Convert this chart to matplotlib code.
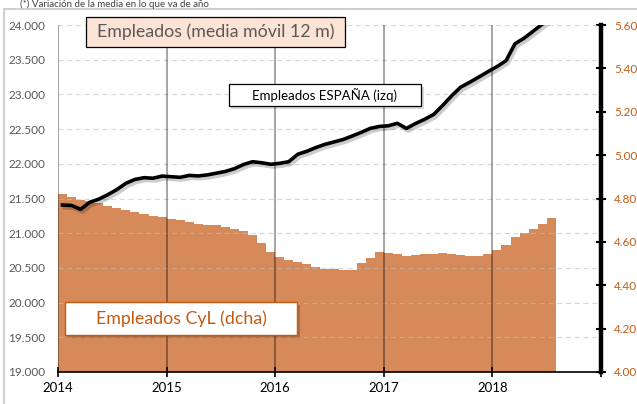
import matplotlib
matplotlib.use("Agg")
import matplotlib.pyplot as plt
import matplotlib.patheffects as pe
from matplotlib.patches import Rectangle

plt.rcParams["font.family"] = ["Lato", "DejaVu Sans"]

# monthly data, Jan 2014 .. Jul 2018
espana = [21406, 21400, 21344, 21445, 21490, 21555, 21628, 21719, 21775, 21800, 21792, 21823,
          21814, 21805, 21833, 21825, 21840, 21865, 21890, 21930, 21990, 22030, 22015, 21993,
          22007, 22030, 22138, 22180, 22235, 22280, 22315, 22350, 22400, 22452, 22510, 22538,
          22548, 22583, 22510, 22580, 22640, 22710, 22840, 22980, 23105, 23175, 23250, 23327,
          23400, 23485, 23730, 23810, 23910, 24010, 24100]
cyl = [4.820, 4.807, 4.795, 4.788, 4.779, 4.767, 4.758, 4.748, 4.739, 4.727, 4.718, 4.713,
       4.707, 4.702, 4.693, 4.684, 4.678, 4.676, 4.667, 4.659, 4.650, 4.632, 4.596, 4.555,
       4.532, 4.516, 4.506, 4.497, 4.483, 4.476, 4.476, 4.470, 4.470, 4.501, 4.524, 4.552,
       4.548, 4.546, 4.537, 4.541, 4.542, 4.544, 4.548, 4.543, 4.541, 4.536, 4.537, 4.543,
       4.564, 4.584, 4.622, 4.640, 4.658, 4.682, 4.709]
years = ["2014", "2015", "2016", "2017", "2018", ""]
left_ticks = [19000, 19500, 20000, 20500, 21000, 21500, 22000, 22500, 23000, 23500, 24000]
right_ticks = [4.0, 4.2, 4.4, 4.6, 4.8, 5.0, 5.2, 5.4, 5.6]

W, H = 637, 404
fig = plt.figure(figsize=(W / 100, H / 100), dpi=100)
ax = fig.add_axes([58 / W, 1 - 372 / H, (601 - 58) / W, (372 - 25) / H])
ax2 = ax.twinx()
ax.set_zorder(ax2.get_zorder() + 1)
ax.patch.set_visible(False)

orange = "#D68A59"
dark_orange = "#C55A11"

months = list(range(len(cyl)))
ax2.bar(months, cyl, width=1.0, align="edge", color=orange, edgecolor="none")
ax2.set_ylim(4.0, 5.6)
ax2.set_yticks(right_ticks)
ax2.set_yticklabels([f"{v:.2f}" for v in right_ticks], color=dark_orange, fontsize=8.5)
ax2.tick_params(axis="y", direction="inout", length=7, width=1.5, color="black", pad=6)

xc = [m + 0.5 for m in months]
ax.plot(xc, espana, color="black", lw=2.6, solid_joinstyle="round",
        path_effects=[pe.SimpleLineShadow(offset=(1.5, -2), alpha=0.2), pe.Normal()])
ax.set_ylim(19000, 24000)
ax.set_xlim(0, 60)
ax.set_yticks(left_ticks)
ax.set_yticklabels([f"{v:,}".replace(",", ".") for v in left_ticks], color="#595959", fontsize=8.5)
ax.tick_params(axis="y", length=0, pad=9)
ax.set_xticks([0, 12, 24, 36, 48, 60])
ax.set_xticklabels(years, fontsize=9.5)
ax.tick_params(axis="x", direction="inout", length=7, width=1.2, pad=4)

for v in left_ticks[1:]:
    ax.axhline(v, color="#BFBFBF", lw=0.9, ls=(0, (4, 3)), alpha=0.6, zorder=0)
for m in [0, 12, 24, 36, 48]:
    ax.axvline(m, color="black", lw=1.1, alpha=0.45, zorder=0)

for a in (ax, ax2):
    a.spines["top"].set_visible(False)
    a.spines["left"].set_visible(False)
    a.spines["right"].set_visible(False)
ax.spines["bottom"].set_linewidth(1.2)
ax2.spines["bottom"].set_visible(False)
ax2.spines["right"].set_visible(True)
ax2.spines["right"].set_linewidth(3.2)
ax2.spines["right"].set_color("black")


def px_rect(x0, y0, x1, y1, **kw):
    r = Rectangle((x0 / W, 1 - y1 / H), (x1 - x0) / W, (y1 - y0) / H,
                  transform=fig.transFigure, **kw)
    fig.add_artist(r)


# outer frame
px_rect(4, 9, W + 5, H + 5, fill=False, edgecolor="#D0D0D0", lw=1.5, zorder=0)
fig.text(20 / W, 1 - 7 / H, "(*) Variación de la media en lo que va de año",
         fontsize=7, color="#404040", va="baseline")

# title box
px_rect(86, 17, 345, 47, facecolor="#FBE4D5", edgecolor="black", lw=0.9, zorder=5)
fig.text(215.5 / W, 1 - 32 / H, "Empleados (media móvil 12 m)", fontsize=12.8,
         color="#595959", ha="center", va="center", zorder=6)

# espana label
px_rect(231, 87, 424, 109, facecolor="black", edgecolor="none", alpha=0.15, zorder=5)
px_rect(229, 84, 421, 106, facecolor="white", edgecolor="black", lw=0.9, zorder=5)
fig.text(325 / W, 1 - 95.5 / H, "Empleados ESPAÑA (izq)", fontsize=9.5,
         color="black", ha="center", va="center", zorder=6)

# cyl label
px_rect(67, 305, 300, 338, facecolor="black", edgecolor="none", alpha=0.2, zorder=5)
px_rect(65, 302, 297, 335, facecolor="white", edgecolor=dark_orange, lw=1.0, zorder=5)
fig.text(181 / W, 1 - 319 / H, "Empleados CyL (dcha)", fontsize=12.8,
         color=dark_orange, ha="center", va="center", zorder=6)

fig.savefig("out.png", dpi=100)
